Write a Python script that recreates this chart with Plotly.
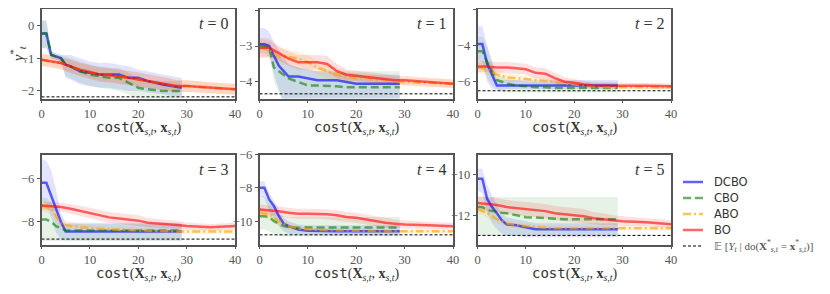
import plotly.graph_objects as go

# ---------------- data ----------------
T_LABELS = ["0", "1", "2", "3", "4", "5"]
X_SHORT = [0, 1, 2, 3, 4, 5, 6, 8, 10, 12, 14, 16, 18, 20, 22, 25, 29]
X_LONG = [0, 2, 4, 6, 8, 10, 12, 14, 16, 18, 20, 22, 24, 26, 28, 30, 35, 40]

DCBO_MEAN = [
    [-0.25, -0.25, -0.9, -0.95, -1.0, -1.2, -1.25, -1.4, -1.45, -1.5, -1.5, -1.5, -1.6, -1.6, -1.7, -1.8, -1.9],
    [-2.95, -2.95, -3.0, -3.3, -3.55, -3.7, -3.85, -3.85, -3.9, -3.95, -3.95, -3.95, -4.0, -4.05, -4.05, -4.05, -4.05],
    [-3.9, -3.9, -5.0, -5.6, -6.2, -6.2, -6.2, -6.2, -6.2, -6.2, -6.2, -6.2, -6.2, -6.2, -6.2, -6.2, -6.2],
    [-6.2, -6.2, -6.8, -7.4, -8.0, -8.45, -8.45, -8.45, -8.45, -8.45, -8.45, -8.45, -8.45, -8.45, -8.45, -8.45, -8.45],
    [-8.0, -8.0, -8.7, -9.1, -9.7, -10.15, -10.3, -10.5, -10.58, -10.6, -10.6, -10.6, -10.6, -10.6, -10.6, -10.6, -10.6],
    [-10.2, -10.2, -11.2, -11.6, -11.9, -12.25, -12.45, -12.5, -12.6, -12.7, -12.7, -12.7, -12.7, -12.7, -12.7, -12.7, -12.7],
]
DCBO_HI = [
    [0.15, 0.15, -0.8, -0.85, -0.9, -0.9, -0.9, -1.0, -1.1, -1.15, -1.15, -1.2, -1.25, -1.35, -1.4, -1.5, -1.6],
    [-2.5, -2.5, -2.6, -2.9, -3.1, -3.3, -3.5, -3.6, -3.65, -3.7, -3.7, -3.72, -3.75, -3.78, -3.8, -3.8, -3.8],
    [-2.9, -2.9, -4.0, -5.0, -5.9, -5.9, -5.9, -5.9, -5.9, -5.9, -5.9, -5.9, -5.9, -5.9, -5.9, -5.9, -5.9],
    [-5.1, -5.2, -5.6, -6.5, -7.6, -8.05, -8.05, -8.05, -8.05, -8.05, -8.05, -8.05, -8.05, -8.05, -8.05, -8.05, -8.05],
    [-7.6, -7.6, -8.3, -8.8, -9.3, -9.8, -10.0, -10.2, -10.25, -10.25, -10.25, -10.25, -10.25, -10.25, -10.25, -10.25, -10.25],
    [-9.7, -9.7, -10.5, -11.0, -11.5, -11.9, -12.1, -12.2, -12.3, -12.4, -12.4, -12.4, -12.4, -12.4, -12.4, -12.4, -12.4],
]
DCBO_LO = [
    [-0.7, -0.7, -1.0, -1.05, -1.1, -1.6, -1.65, -1.8, -1.85, -1.9, -1.9, -1.95, -2.0, -2.0, -2.05, -2.1, -2.2],
    [-3.2, -3.2, -3.3, -3.8, -4.2, -4.6, -4.7, -4.7, -4.7, -4.7, -4.7, -4.7, -4.7, -4.7, -4.7, -4.7, -4.7],
    [-4.8, -4.9, -6.0, -6.4, -6.5, -6.45, -6.4, -6.4, -6.4, -6.4, -6.4, -6.4, -6.4, -6.4, -6.4, -6.4, -6.4],
    [-7.0, -7.2, -7.8, -8.5, -8.8, -8.85, -8.85, -8.85, -8.85, -8.85, -8.85, -8.85, -8.85, -8.85, -8.85, -8.85, -8.85],
    [-8.5, -8.6, -9.4, -9.9, -10.3, -10.6, -10.75, -10.85, -10.85, -10.85, -10.85, -10.85, -10.85, -10.85, -10.85, -10.85, -10.85],
    [-10.8, -10.9, -11.9, -12.4, -12.7, -12.9, -13.0, -13.05, -13.1, -13.1, -13.1, -13.1, -13.1, -13.1, -13.1, -13.1, -13.1],
]

CBO_MEAN = [
    [-0.25, -0.25, -0.9, -0.95, -1.0, -1.2, -1.25, -1.4, -1.5, -1.55, -1.6, -1.6, -1.75, -1.9, -1.95, -2.0, -2.0],
    [-3.0, -3.0, -3.05, -3.6, -3.7, -3.8, -3.9, -4.0, -4.1, -4.1, -4.1, -4.12, -4.15, -4.15, -4.15, -4.15, -4.15],
    [-4.3, -4.3, -4.9, -5.4, -5.9, -6.0, -6.1, -6.2, -6.25, -6.3, -6.3, -6.35, -6.35, -6.35, -6.35, -6.35, -6.35],
    [-7.9, -7.9, -8.0, -8.2, -8.3, -8.4, -8.4, -8.4, -8.4, -8.4, -8.4, -8.4, -8.4, -8.4, -8.4, -8.4, -8.4],
    [-9.7, -9.7, -9.75, -10.0, -10.15, -10.3, -10.35, -10.4, -10.38, -10.38, -10.38, -10.38, -10.38, -10.38, -10.38, -10.38, -10.38],
    [-11.6, -11.6, -11.75, -11.8, -11.85, -11.88, -11.9, -12.0, -12.1, -12.12, -12.15, -12.18, -12.2, -12.2, -12.2, -12.2, -12.2],
]
CBO_HI = [
    [0.15, 0.15, -0.8, -0.85, -0.9, -0.95, -1.0, -1.1, -1.2, -1.25, -1.3, -1.3, -1.45, -1.6, -1.65, -1.7, -1.7],
    [-2.9, -2.9, -2.9, -3.2, -3.3, -3.4, -3.5, -3.6, -3.65, -3.7, -3.7, -3.7, -3.7, -3.7, -3.7, -3.7, -3.7],
    [-3.5, -3.5, -4.0, -4.8, -5.6, -5.7, -5.8, -5.9, -6.0, -6.0, -6.0, -6.0, -6.0, -6.0, -6.0, -6.0, -6.0],
    [-6.9, -6.9, -7.1, -7.6, -8.0, -8.1, -8.1, -8.1, -8.1, -8.1, -8.1, -8.1, -8.1, -8.1, -8.1, -8.1, -8.1],
    [-8.5, -8.5, -8.8, -9.4, -9.6, -9.7, -9.75, -9.75, -9.75, -9.75, -9.75, -9.75, -9.75, -9.75, -9.75, -9.75, -9.75],
    [-11.1, -11.1, -11.1, -11.1, -11.1, -11.1, -11.1, -11.1, -11.1, -11.1, -11.1, -11.1, -11.1, -11.1, -11.1, -11.1, -11.1],
]
CBO_LO = [
    [-0.7, -0.7, -1.0, -1.05, -1.1, -1.55, -1.6, -1.75, -1.85, -1.9, -1.95, -2.0, -2.1, -2.25, -2.3, -2.35, -2.35],
    [-3.1, -3.1, -3.2, -4.0, -4.3, -4.6, -4.7, -4.7, -4.7, -4.7, -4.7, -4.7, -4.7, -4.7, -4.7, -4.7, -4.7],
    [-5.1, -5.2, -5.8, -6.2, -6.4, -6.5, -6.6, -6.6, -6.6, -6.6, -6.6, -6.6, -6.6, -6.6, -6.6, -6.6, -6.6],
    [-8.9, -8.9, -8.9, -8.9, -8.9, -8.9, -8.9, -8.9, -8.9, -8.9, -8.9, -8.9, -8.9, -8.9, -8.9, -8.9, -8.9],
    [-10.5, -10.5, -10.6, -10.8, -10.9, -10.9, -10.9, -10.9, -10.9, -10.9, -10.9, -10.9, -10.9, -10.9, -10.9, -10.9, -10.9],
    [-13.0, -13.0, -13.0, -13.0, -13.0, -13.0, -13.0, -13.0, -13.0, -13.0, -13.0, -13.0, -13.0, -13.0, -13.0, -13.0, -13.0],
]

ABO_MEAN = [
    [-1.05, -1.1, -1.15, -1.25, -1.35, -1.42, -1.5, -1.52, -1.55, -1.6, -1.65, -1.7, -1.75, -1.8, -1.85, -1.85, -1.9, -1.95],
    [-3.05, -3.1, -3.3, -3.3, -3.35, -3.45, -3.6, -3.7, -3.8, -3.85, -3.9, -3.9, -3.95, -3.95, -4.0, -4.0, -4.02, -4.05],
    [-5.2, -5.3, -5.6, -5.75, -5.8, -5.85, -5.9, -5.95, -6.0, -6.1, -6.15, -6.2, -6.25, -6.3, -6.3, -6.3, -6.3, -6.3],
    [-7.25, -7.4, -8.1, -8.2, -8.25, -8.3, -8.32, -8.35, -8.35, -8.38, -8.4, -8.42, -8.42, -8.45, -8.45, -8.45, -8.45, -8.45],
    [-9.5, -9.6, -10.0, -10.3, -10.45, -10.5, -10.52, -10.55, -10.55, -10.55, -10.55, -10.58, -10.6, -10.6, -10.6, -10.6, -10.6, -10.6],
    [-11.7, -11.9, -12.2, -12.4, -12.5, -12.55, -12.6, -12.62, -12.65, -12.65, -12.65, -12.65, -12.65, -12.65, -12.65, -12.65, -12.65, -12.65],
]
ABO_SPREAD = [
    [0.2, 0.2, 0.2, 0.2, 0.2, 0.2, 0.2, 0.2, 0.2, 0.2, 0.2, 0.2, 0.2, 0.2, 0.2, 0.18, 0.18, 0.18],
    [0.25, 0.25, 0.25, 0.2, 0.2, 0.2, 0.2, 0.2, 0.2, 0.15, 0.15, 0.15, 0.15, 0.12, 0.12, 0.12, 0.12, 0.12],
    [0.3, 0.3, 0.3, 0.25, 0.2, 0.2, 0.2, 0.2, 0.18, 0.15, 0.15, 0.15, 0.12, 0.12, 0.12, 0.12, 0.12, 0.12],
    [0.25, 0.25, 0.25, 0.2, 0.15, 0.15, 0.12, 0.12, 0.12, 0.12, 0.12, 0.12, 0.12, 0.12, 0.12, 0.12, 0.12, 0.12],
    [0.3, 0.3, 0.3, 0.2, 0.15, 0.12, 0.12, 0.12, 0.12, 0.12, 0.12, 0.12, 0.12, 0.12, 0.12, 0.12, 0.12, 0.12],
    [0.2, 0.2, 0.2, 0.15, 0.15, 0.12, 0.12, 0.12, 0.12, 0.12, 0.12, 0.12, 0.12, 0.12, 0.12, 0.12, 0.12, 0.12],
]

BO_MEAN = [
    [-1.05, -1.1, -1.15, -1.25, -1.35, -1.42, -1.5, -1.52, -1.55, -1.6, -1.65, -1.7, -1.75, -1.8, -1.85, -1.85, -1.9, -1.95],
    [-3.05, -3.05, -3.2, -3.35, -3.45, -3.45, -3.45, -3.5, -3.7, -3.8, -3.83, -3.85, -3.88, -3.9, -3.95, -3.95, -4.0, -4.05],
    [-5.15, -5.15, -5.2, -5.2, -5.25, -5.3, -5.5, -5.55, -5.8, -6.0, -6.05, -6.15, -6.2, -6.2, -6.2, -6.2, -6.22, -6.25],
    [-7.25, -7.28, -7.32, -7.4, -7.5, -7.6, -7.7, -7.8, -7.85, -7.9, -7.95, -8.05, -8.08, -8.1, -8.15, -8.2, -8.25, -8.2],
    [-9.3, -9.33, -9.4, -9.5, -9.55, -9.55, -9.55, -9.58, -9.65, -9.75, -9.8, -9.9, -10.0, -10.1, -10.15, -10.2, -10.25, -10.3],
    [-11.4, -11.45, -11.5, -11.6, -11.65, -11.7, -11.75, -11.8, -11.9, -11.95, -12.0, -12.05, -12.15, -12.2, -12.25, -12.3, -12.35, -12.45],
]
BO_SPREAD = [
    [0.18, 0.18, 0.18, 0.2, 0.2, 0.22, 0.22, 0.22, 0.22, 0.22, 0.22, 0.22, 0.2, 0.2, 0.18, 0.18, 0.16, 0.16],
    [0.28, 0.25, 0.2, 0.2, 0.2, 0.2, 0.2, 0.22, 0.2, 0.15, 0.15, 0.15, 0.15, 0.12, 0.12, 0.12, 0.12, 0.12],
    [0.3, 0.3, 0.3, 0.3, 0.3, 0.3, 0.3, 0.3, 0.3, 0.25, 0.2, 0.2, 0.15, 0.15, 0.15, 0.15, 0.15, 0.15],
    [0.2, 0.2, 0.2, 0.22, 0.25, 0.25, 0.25, 0.25, 0.25, 0.25, 0.25, 0.22, 0.2, 0.2, 0.2, 0.15, 0.15, 0.15],
    [0.3, 0.3, 0.3, 0.3, 0.3, 0.3, 0.3, 0.3, 0.3, 0.3, 0.3, 0.3, 0.3, 0.3, 0.25, 0.25, 0.2, 0.2],
    [0.35, 0.35, 0.35, 0.35, 0.35, 0.35, 0.35, 0.35, 0.35, 0.35, 0.35, 0.35, 0.3, 0.3, 0.25, 0.25, 0.2, 0.2],
]

OPTIMUM = [-2.18, -4.33, -6.5, -8.8, -10.82, -13.0]
Y_RANGES = [[-2.23, 0.5], [-4.46, -1.97], [-6.93, -1.95], [-9.05, -4.9], [-11.4, -6.0], [-13.45, -9.0]]
Y_TICKS = [[0, -1, -2], [-2, -3, -4], [-2, -4, -6], [-6, -8], [-6, -8, -10], [-10, -12]]
X_TICKS = [0, 10, 20, 30, 40]

SERIES_NAMES = ["DCBO", "CBO", "ABO", "BO"]
OPT_NAME = ("\U0001D53C [<i>Y<sub>t</sub></i> | do(<b>X</b><sup>*</sup><sub><i>s,t</i></sub>"
            " = <b>x</b><sup>*</sup><sub><i>s,t</i></sub>)]")
LINE_COLORS = ["rgba(0,0,255,0.62)", "rgba(0,128,0,0.6)", "rgba(255,165,0,0.65)", "rgba(255,0,0,0.6)"]
FILL_COLORS = ["rgba(0,0,255,0.11)", "rgba(0,128,0,0.1)", "rgba(255,165,0,0.12)", "rgba(255,0,0,0.12)"]
DASHES = ["solid", "8px,4px", "8px,3px,2px,3px", "solid"]

# ---------------- layout geometry ----------------
# The page body keeps the browser's default 8px margin, so the figure is
# sized to the visible part of the window and every window pixel is shifted.
OFF = 8.0
W, H = 830 - OFF, 294 - OFF
COL_PX = [(41.5, 235.0), (259.5, 453.0), (477.5, 671.0)]   # window pixels
ROW_PX = [(9.0, 98.5), (154.5, 244.5)]
XTITLE_PY = [127.5, 273.5]
LEGEND_X = (683.0, 703.0, 712.0)
LEGEND_Y0, LEGEND_DY = 182.0, 16.0


def px(v):
    return (v - OFF) / W


def py(v):
    return 1 - (v - OFF) / H


SERIF = "Liberation Serif"
GREY = "#555555"

XTITLE = ("<span style='font-family:DejaVu Sans Mono'>cost</span>"
          "(<b>X</b><sub><i>s,t</i></sub>, <b>x</b><sub><i>s,t</i></sub>)")

fig = go.Figure()


def band(x, lo, hi, color, xa, ya):
    return go.Scatter(x=list(x) + list(x)[::-1], y=list(hi) + list(lo)[::-1],
                      fill="toself", fillcolor=color, line=dict(width=0),
                      mode="lines", hoverinfo="skip", showlegend=False,
                      xaxis=xa, yaxis=ya)


for k in range(6):
    r, c = divmod(k, 3)
    idx = "" if k == 0 else str(k + 1)
    xa, ya = "x" + idx, "y" + idx

    fig.add_trace(band(X_SHORT, DCBO_LO[k], DCBO_HI[k], FILL_COLORS[0], xa, ya))
    fig.add_trace(band(X_SHORT, CBO_LO[k], CBO_HI[k], FILL_COLORS[1], xa, ya))
    fig.add_trace(band(X_LONG, [m - s for m, s in zip(ABO_MEAN[k], ABO_SPREAD[k])],
                       [m + s for m, s in zip(ABO_MEAN[k], ABO_SPREAD[k])], FILL_COLORS[2], xa, ya))
    fig.add_trace(band(X_LONG, [m - s for m, s in zip(BO_MEAN[k], BO_SPREAD[k])],
                       [m + s for m, s in zip(BO_MEAN[k], BO_SPREAD[k])], FILL_COLORS[3], xa, ya))

    fig.add_trace(go.Scatter(x=[0, 40], y=[OPTIMUM[k], OPTIMUM[k]], mode="lines",
                             line=dict(color="black", width=1, dash="3px,2px"),
                             name="optimum", showlegend=False, xaxis=xa, yaxis=ya))

    means = [(X_SHORT, DCBO_MEAN[k]), (X_SHORT, CBO_MEAN[k]), (X_LONG, ABO_MEAN[k]), (X_LONG, BO_MEAN[k])]
    for j, (xx, yy) in enumerate(means):
        fig.add_trace(go.Scatter(x=xx, y=yy, mode="lines", name=SERIES_NAMES[j],
                                 line=dict(color=LINE_COLORS[j], width=2.5, dash=DASHES[j]),
                                 showlegend=False, xaxis=xa, yaxis=ya))

    x0, x1 = COL_PX[c]
    y0, y1 = ROW_PX[r]
    axis_common = dict(showline=True, linecolor=GREY, linewidth=1.5, mirror=True,
                       ticks="outside", ticklen=3, tickcolor=GREY, tickwidth=1,
                       showgrid=False, zeroline=False, automargin=False,
                       tickfont=dict(family=SERIF, size=12.5, color=GREY))
    fig.layout["xaxis" + idx] = dict(axis_common, domain=[px(x0), px(x1)], range=[0, 40],
                                     tickvals=X_TICKS, anchor=ya)
    fig.layout["yaxis" + idx] = dict(axis_common, domain=[py(y1), py(y0)], range=Y_RANGES[k],
                                     tickvals=Y_TICKS[k],
                                     ticktext=[("\u2212" + str(-v)) if v < 0 else str(v) for v in Y_TICKS[k]],
                                     anchor=xa)
    fig.add_annotation(text="<i>t</i> = " + T_LABELS[k], xref=xa + " domain", yref=ya + " domain",
                       x=0.975, y=0.955, xanchor="right", yanchor="top", showarrow=False,
                       font=dict(family=SERIF, size=16, color="#333"))
    fig.add_annotation(text=XTITLE, xref=xa + " domain", yref="paper",
                       x=0.5, y=py(XTITLE_PY[r]), xanchor="center", yanchor="middle",
                       showarrow=False, font=dict(family=SERIF, size=14, color="#333"))

fig.layout["yaxis"]["title"] = dict(text="<i>y</i><sup>*</sup><sub><i>t</i></sub>", standoff=2,
                                    font=dict(family=SERIF, size=15, color="#333"))

# ---------------- legend (drawn beside the grid) ----------------
leg_items = [(SERIES_NAMES[j], LINE_COLORS[j], DASHES[j], 2.5, "DejaVu Sans", 11.5) for j in range(4)]
leg_items.append((OPT_NAME, "black", "3px,2px", 1, SERIF, 11))
for i, (name, col, dash, wid, fam, fs) in enumerate(leg_items):
    yy = LEGEND_Y0 + i * LEGEND_DY
    fig.add_shape(type="line", xref="paper", yref="paper",
                  x0=px(LEGEND_X[0]), x1=px(LEGEND_X[1]), y0=py(yy), y1=py(yy),
                  line=dict(color=col, width=wid, dash=dash))
    fig.add_annotation(text=name, xref="paper", yref="paper", x=px(LEGEND_X[2]), y=py(yy),
                       xanchor="left", yanchor="middle", showarrow=False,
                       font=dict(family=fam, size=fs, color="#333" if i < 4 else "#555"))

fig.update_layout(
    width=W, height=H, margin=dict(l=0, r=0, t=0, b=0, autoexpand=False),
    plot_bgcolor="white", paper_bgcolor="white", showlegend=False,
)

fig.write_html("out.html")
